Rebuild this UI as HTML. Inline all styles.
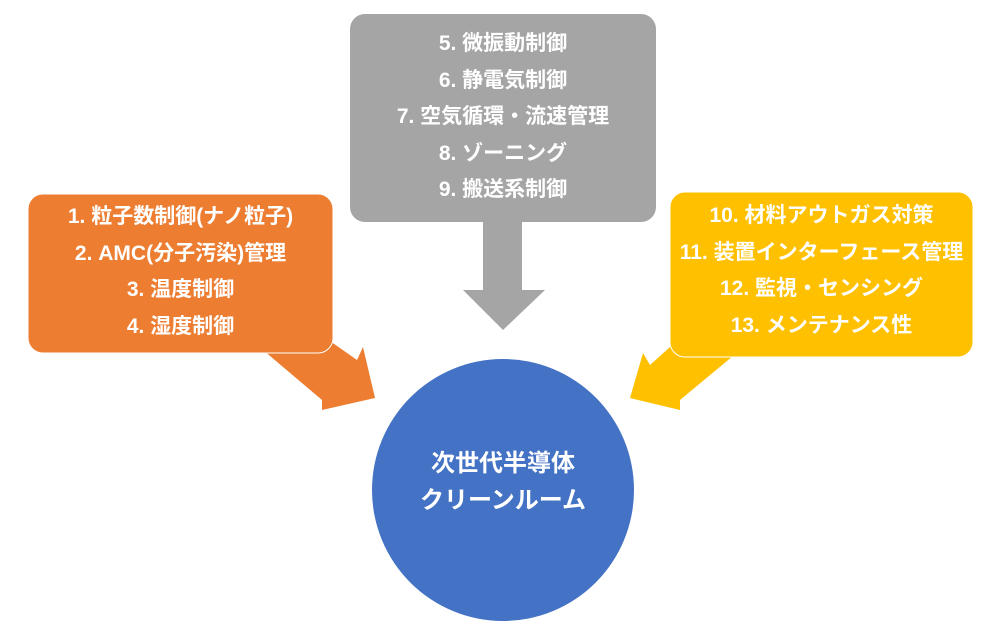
<!DOCTYPE html>
<html><head><meta charset="utf-8"><style>
body{margin:0;width:1000px;height:627px;background:#fff;overflow:hidden;position:relative;font-family:"Liberation Sans","Noto Sans CJK JP",sans-serif;}
.t{position:absolute;color:#fff;font-weight:bold;font-size:21px;text-align:center;white-space:nowrap;line-height:36.5px;}
</style></head><body>
<svg width="1000" height="627" style="position:absolute;left:0;top:0">
<polygon points="263,350 322,400 322,410 375,398 363,347 357,360 300,320" fill="#ED7D31"/>
<rect x="28" y="194" width="305" height="159" rx="15" fill="#ED7D31" stroke="#fff" stroke-width="1"/>
<polygon points="483,222 522,222 522,290 545,290 503,330 463,290 483,290" fill="#A5A5A5"/>
<rect x="350" y="14" width="306" height="208" rx="15" fill="#A5A5A5"/>
<polygon points="733,356 680,400 680,410 630,398 643,353 650,365 700,320" fill="#FFC000"/>
<rect x="670" y="192" width="303" height="165" rx="15" fill="#FFC000" stroke="#fff" stroke-width="1"/>
<circle cx="503" cy="490" r="131" fill="#4472C4"/>
</svg>
<div class="t" style="left:350px;width:306px;top:26px">5. 微振動制御<br>6. 静電気制御<br>7. 空気循環・流速管理<br>8. ゾーニング<br>9. 搬送系制御</div>
<div class="t" style="left:28px;width:305px;top:199px">1. 粒子数制御(ナノ粒子)<br>2. AMC(分子汚染)管理<br>3. 温度制御<br>4. 湿度制御</div>
<div class="t" style="left:670px;width:303px;top:198px">10. 材料アウトガス対策<br>11. 装置インターフェース管理<br>12. 監視・センシング<br>13. メンテナンス性</div>
<div class="t" style="left:372px;width:262px;top:445px;font-size:24px;line-height:37px">次世代半導体<br>クリーンルーム</div>
</body></html>
